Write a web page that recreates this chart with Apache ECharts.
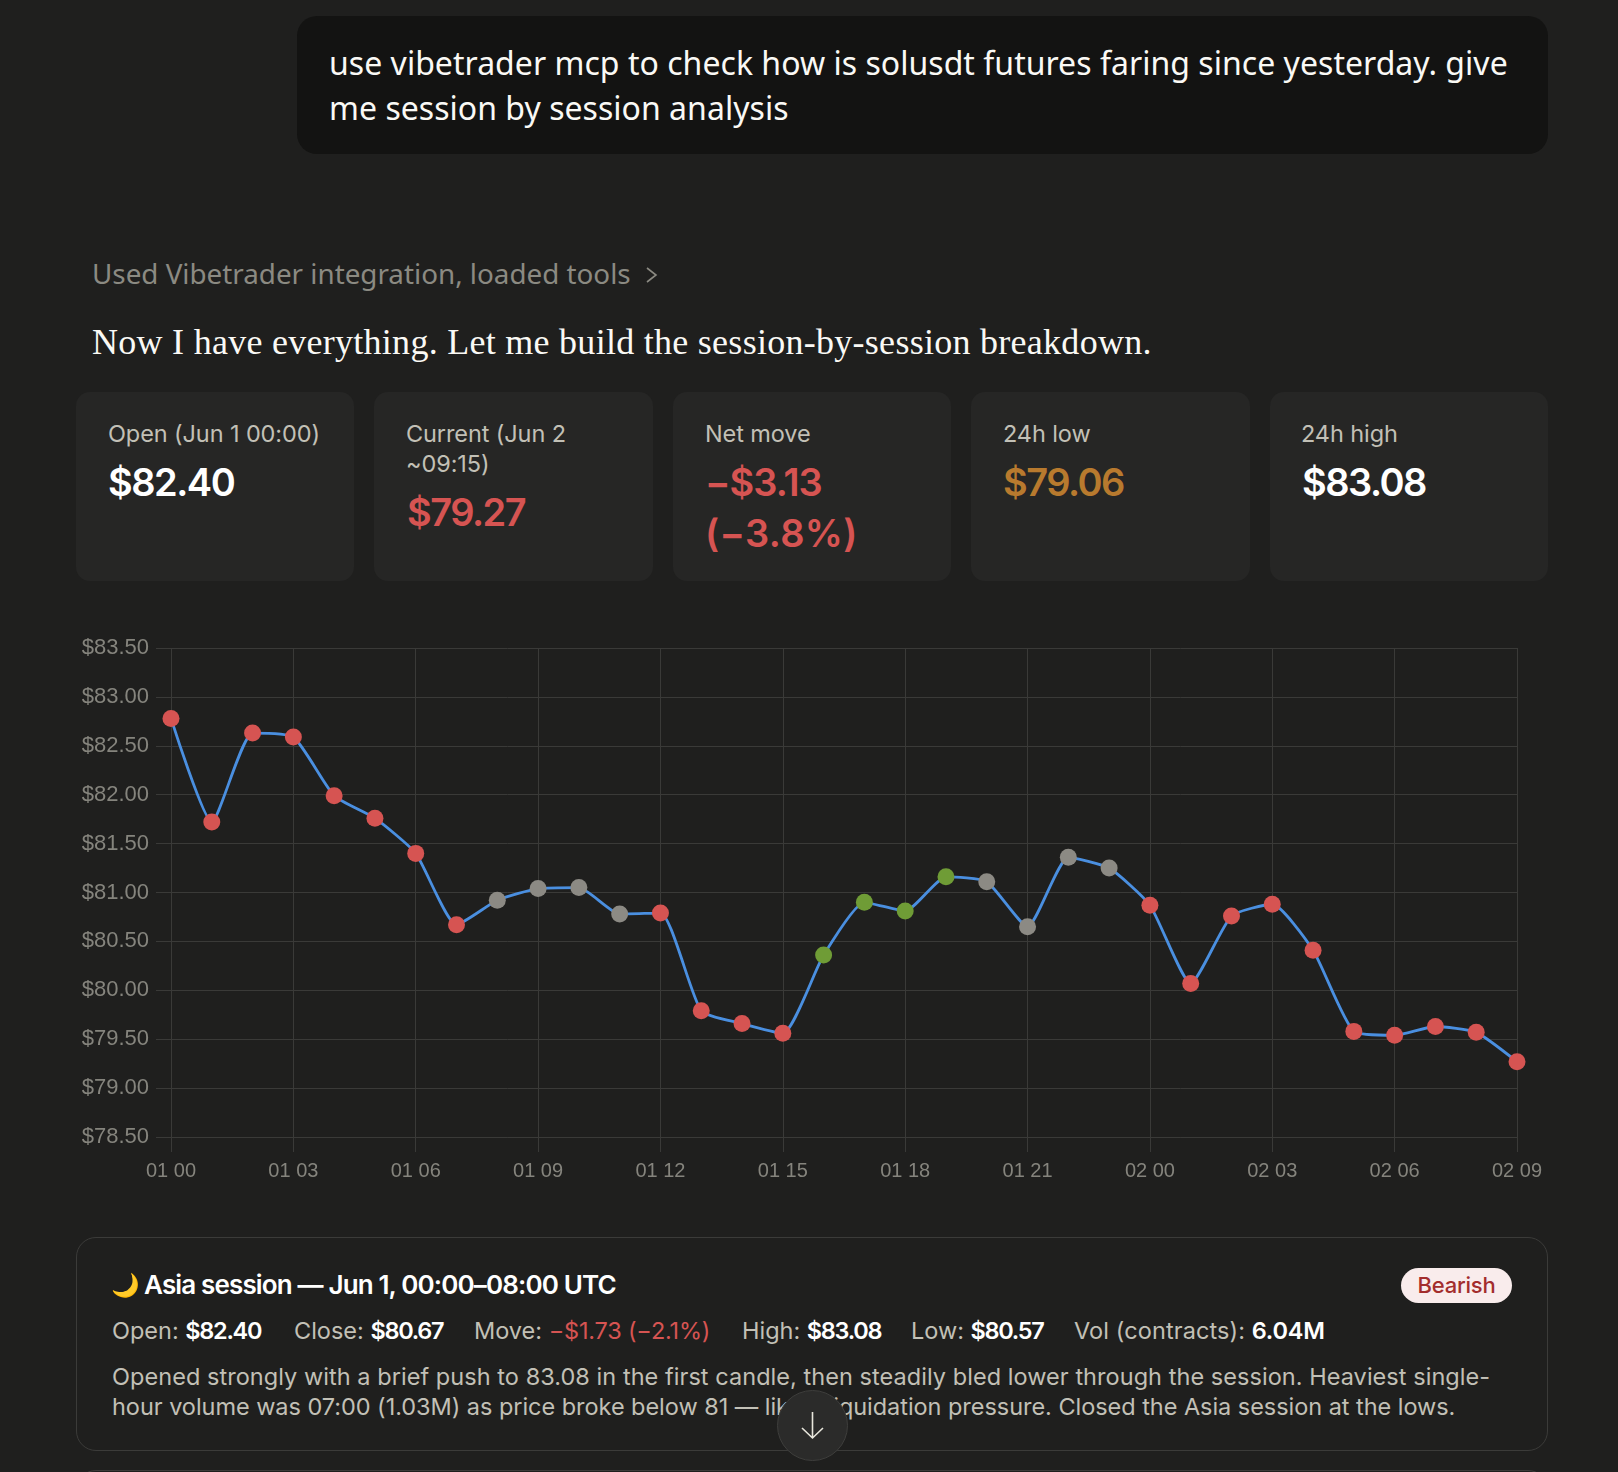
<!DOCTYPE html>
<html>
<head>
<meta charset="utf-8">
<script src="https://cdn.jsdelivr.net/npm/echarts@6/dist/echarts.min.js"></script>
<style>
html,body{margin:0;padding:0;background:#1f1f1e;width:1618px;height:1472px;overflow:hidden;font-family:Inter,"Noto Sans",sans-serif;}
.abs{position:absolute;white-space:nowrap;}
.bubble{left:297px;top:16px;width:1251px;height:138px;background:#131312;border-radius:20px;}
.card{top:392px;height:189px;background:#262625;border-radius:14px;}
.label{font-size:23.5px;color:#c2c0b6;letter-spacing:-.1px;}
.big{font-size:38px;font-weight:600;letter-spacing:-1.5px;}
#chart{left:0;top:620px;width:1618px;height:580px;}
.session{left:76px;top:1237px;width:1470px;height:212px;border:1px solid #3b3b39;border-radius:20px;}
.next{left:76px;top:1470px;width:1470px;height:60px;border:1px solid #3b3b39;border-radius:20px;}
.row{font-size:23.5px;color:#c2c0b6;letter-spacing:0;}
.row b{color:#fff;font-weight:600;letter-spacing:-1.3px;}
</style>
</head>
<body>
<div class="abs bubble"></div>
<div class="abs" style="left:329px;top:40px;font-size:32px;line-height:45px;color:#faf9f5;font-family:'Noto Sans',sans-serif;letter-spacing:.03px">use vibetrader mcp to check how is solusdt futures faring since yesterday. give<br>me session by session analysis</div>
<div class="abs" style="left:92px;top:254px;font-size:27.8px;color:#8b8a82;font-family:'Noto Sans',sans-serif;">Used Vibetrader integration, loaded tools</div>
<svg class="abs" style="left:642px;top:264px" width="20" height="22"><path d="M5 4L14 11L5 18" fill="none" stroke="#8b8a82" stroke-width="1.6"/></svg>
<div class="abs" style="left:92px;top:321px;font-size:36px;letter-spacing:.275px;color:#faf9f5;font-family:'Liberation Serif',serif;">Now I have everything. Let me build the session-by-session breakdown.</div>

<div class="abs card" style="left:76px;width:278px"></div>
<div class="abs card" style="left:374px;width:279px"></div>
<div class="abs card" style="left:673px;width:278px"></div>
<div class="abs card" style="left:971px;width:279px"></div>
<div class="abs card" style="left:1270px;width:278px"></div>

<div class="abs label" style="left:108px;top:419px">Open (Jun 1 00:00)</div>
<div class="abs big" style="left:108px;top:459px;color:#fff">$82.40</div>
<div class="abs label" style="left:406px;top:419px;line-height:30px">Current (Jun 2<br>~09:15)</div>
<div class="abs big" style="left:407px;top:489px;color:#d65452">$79.27</div>
<div class="abs label" style="left:705px;top:419px">Net move</div>
<div class="abs big" style="left:705px;top:457px;color:#d65452;line-height:50.5px"><span style="letter-spacing:-1px">−$3.13</span><br><span style="letter-spacing:.3px">(−3.8%)</span></div>
<div class="abs label" style="left:1003px;top:419px">24h low</div>
<div class="abs big" style="left:1003px;top:459px;color:#b87a2e">$79.06</div>
<div class="abs label" style="left:1301px;top:419px">24h high</div>
<div class="abs big" style="left:1302px;top:459px;color:#fff">$83.08</div>

<div class="abs" id="chart"></div>

<div class="abs session"></div>
<div class="abs next"></div>
<div class="abs" style="left:111px;top:1271px;font-size:23px;">🌙</div>
<div class="abs" style="left:144px;top:1269px;font-size:26px;font-weight:600;color:#fff;letter-spacing:-.85px">Asia session — Jun 1, 00:00–08:00 UTC</div>
<div class="abs" style="left:1401px;top:1268px;width:111px;height:35px;border-radius:18px;background:#f9ecec;color:#a32d2d;font-size:22px;font-weight:500;line-height:35px;text-align:center;letter-spacing:-.2px">Bearish</div>
<div class="abs row" style="left:112px;top:1316px">Open: <b>$82.40</b></div>
<div class="abs row" style="left:294px;top:1316px">Close: <b>$80.67</b></div>
<div class="abs row" style="left:474px;top:1316px">Move: <span style="color:#d65452;letter-spacing:-.2px">−$1.73 (−2.1%)</span></div>
<div class="abs row" style="left:742px;top:1316px">High: <b>$83.08</b></div>
<div class="abs row" style="left:911px;top:1316px">Low: <b>$80.57</b></div>
<div class="abs row" style="left:1074px;top:1316px"><span style="letter-spacing:.1px">Vol (contracts):</span> <b style="letter-spacing:-.2px">6.04M</b></div>
<div class="abs row" style="left:112px;top:1362px;line-height:30px"><span style="letter-spacing:.05px">Opened strongly with a brief push to 83.08 in the first candle, then steadily bled lower through the session. Heaviest single-</span><br><span style="letter-spacing:-.04px">hour volume was 07:00 (1.03M) as price broke below 81 — likely liquidation pressure. Closed the Asia session at the lows.</span></div>
<div class="abs" style="left:777px;top:1390px;width:71px;height:71px;border-radius:50%;background:#2b2b2a;border:1px solid #3e3e3c;box-sizing:border-box"></div>
<svg class="abs" style="left:777px;top:1390px" width="71" height="71"><path d="M35.5 22V48M25 38L35.5 48L46 38" fill="none" stroke="#e8e6dc" stroke-width="1.6"/></svg>

<script>
// Hourly SOLUSDT closes, Jun 1 00:00 through Jun 2 09:00
const hours = ['01 00','01 01','01 02','01 03','01 04','01 05','01 06','01 07','01 08','01 09','01 10','01 11',
  '01 12','01 13','01 14','01 15','01 16','01 17','01 18','01 19','01 20','01 21','01 22','01 23',
  '02 00','02 01','02 02','02 03','02 04','02 05','02 06','02 07','02 08','02 09'];
const closes = [82.78,81.72,82.63,82.59,81.99,81.76,81.40,80.67,80.92,81.04,81.05,80.78,
  80.79,79.79,79.66,79.56,80.36,80.90,80.81,81.16,81.11,80.65,81.36,81.25,
  80.87,80.07,80.76,80.88,80.41,79.58,79.54,79.63,79.57,79.27];
// Session tone of each point: b = bearish, n = neutral, u = bullish
const tones = ['b','b','b','b','b','b','b','b','n','n','n','n',
  'b','b','b','b','u','u','u','u','n','n','n','n',
  'b','b','b','b','b','b','b','b','b','b'];
const toneColors = {b:'#d65452', n:'#8c8a84', u:'#6f9c36'};
const gridColor = '#3a3a38';

const chart = echarts.init(document.getElementById('chart'), null, {renderer:'canvas'});
chart.setOption({
  animation:false,
  grid:{left:171,right:101,top:28,bottom:63,containLabel:false},
  xAxis:{
    type:'category',boundaryGap:false,data:hours,
    axisLine:{show:true,lineStyle:{color:gridColor}},
    axisTick:{show:true,alignWithLabel:true,interval:2,length:15,lineStyle:{color:gridColor}},
    splitLine:{show:true,interval:2,lineStyle:{color:gridColor,width:1}},
    axisLabel:{interval:2,color:'#85847d',fontSize:20,margin:24,fontFamily:'"Liberation Sans",sans-serif',hideOverlap:false}
  },
  yAxis:{
    type:'value',min:78.5,max:83.5,interval:0.5,
    axisLine:{show:false},
    axisTick:{show:true,length:15,lineStyle:{color:gridColor}},
    splitLine:{lineStyle:{color:gridColor,width:1}},
    axisLabel:{color:'#85847d',fontSize:22,margin:22,fontFamily:'"Liberation Sans",sans-serif',formatter:v=>'$'+v.toFixed(2)}
  },
  series:[{
    type:'line',smooth:0.18,showSymbol:true,showAllSymbol:true,symbol:'circle',symbolSize:17,
    lineStyle:{color:'#4a8fe0',width:2.8},
    data:closes.map((v,i)=>({value:v,itemStyle:{color:toneColors[tones[i]]}}))
  }]
});
</script>
</body>
</html>
